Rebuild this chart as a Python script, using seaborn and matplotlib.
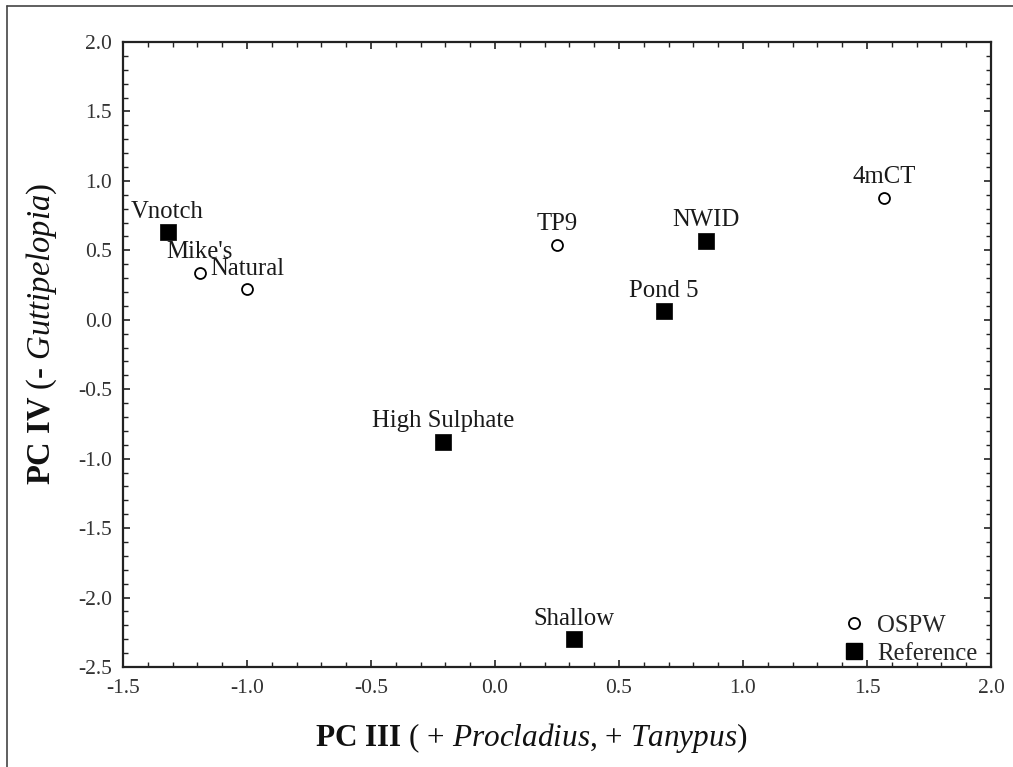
import matplotlib
matplotlib.use("Agg")
import matplotlib.pyplot as plt
from matplotlib.ticker import MultipleLocator
from matplotlib.lines import Line2D
import seaborn as sns
import pandas as pd

# Site scores on principal components III and IV
sites = ["Vnotch", "Mike's", "Natural", "TP9", "NWID", "Pond 5", "4mCT",
         "High Sulphate", "Shallow"]
pc3 = [-1.32, -1.19, -1.00, 0.25, 0.85, 0.68, 1.57, -0.21, 0.32]
pc4 = [0.63, 0.34, 0.22, 0.54, 0.57, 0.06, 0.88, -0.88, -2.30]
groups = ["Reference", "OSPW", "OSPW", "OSPW", "Reference", "Reference", "OSPW",
          "Reference", "Reference"]

x_ticks = [-1.5, -1.0, -0.5, 0.0, 0.5, 1.0, 1.5, 2.0]
y_ticks = [-2.5, -2.0, -1.5, -1.0, -0.5, 0.0, 0.5, 1.0, 1.5, 2.0]

df = pd.DataFrame({"site": sites, "pc3": pc3, "pc4": pc4, "group": groups})

sns.set_theme(style="white")
plt.rcParams["font.family"] = ["Liberation Serif", "DejaVu Serif"]
plt.rcParams["axes.unicode_minus"] = False
plt.rcParams["mathtext.fontset"] = "custom"
plt.rcParams["mathtext.rm"] = "Liberation Serif"
plt.rcParams["mathtext.it"] = "Liberation Serif:italic"
plt.rcParams["mathtext.bf"] = "Liberation Serif:bold"

fig = plt.figure(figsize=(10.13, 7.67), dpi=100)
fig.patch.set_facecolor("white")
ax = fig.add_axes([0.1214, 0.1304, 0.8569, 0.8148])
ax.set_facecolor("white")

ospw = df[df["group"] == "OSPW"]
ref = df[df["group"] == "Reference"]
sns.scatterplot(data=ospw, x="pc3", y="pc4", marker="o", s=62, color="white",
                edgecolor="black", linewidth=1.3, ax=ax, zorder=3)
sns.scatterplot(data=ref, x="pc3", y="pc4", marker="s", s=120, color="black",
                edgecolor="black", linewidth=0.5, ax=ax, zorder=3)

for name, xv, yv in zip(df["site"], df["pc3"], df["pc4"]):
    ax.annotate(name, (xv, yv), xytext=(0, 10.5), textcoords="offset points",
                ha="center", va="baseline", fontsize=17.8, color="#1a1a1a",
                zorder=4)

ax.set_xlim(x_ticks[0], x_ticks[-1])
ax.set_ylim(y_ticks[0], y_ticks[-1])
ax.set_xticks(x_ticks)
ax.set_yticks(y_ticks)
ax.set_xticklabels([f"{v:.1f}" for v in x_ticks])
ax.set_yticklabels([f"{v:.1f}" for v in y_ticks])
ax.xaxis.set_minor_locator(MultipleLocator(0.1))
ax.yaxis.set_minor_locator(MultipleLocator(0.1))
ax.tick_params(which="both", direction="in", top=True, right=True,
               bottom=True, left=True, colors="#222222", labelcolor="#333333")
ax.tick_params(which="major", length=5, width=1.2, labelsize=15.5)
ax.tick_params(axis="x", which="major", pad=9)
ax.tick_params(axis="y", which="major", pad=8)
ax.tick_params(which="minor", length=3.5, width=1.0)
for sp in ax.spines.values():
    sp.set_linewidth(1.6)
    sp.set_color("#222222")

ax.set_xlabel(r"$\mathbf{PC\ III}$ ( + $\mathit{Procladius}$, + $\mathit{Tanypus}$)",
              fontsize=22.5, color="#111111")
ax.set_ylabel(r"$\mathbf{PC\ IV}$ (- $\mathit{Guttipelopia}$)",
              fontsize=23.5, color="#111111")
ax.xaxis.set_label_coords(0.470, -0.086)
ax.yaxis.set_label_coords(-0.074, 0.533)

handles = [
    Line2D([], [], marker="o", linestyle="none", markersize=8,
           markerfacecolor="white", markeredgecolor="black", markeredgewidth=1.3),
    Line2D([], [], marker="s", linestyle="none", markersize=11,
           markerfacecolor="black", markeredgecolor="black"),
]
ax.legend(handles, ["OSPW", "Reference"], loc="lower right",
          bbox_to_anchor=(0.996, -0.012), frameon=False, fontsize=17.8,
          handlelength=0.8, handletextpad=0.55, labelspacing=0.22,
          borderaxespad=0.2, borderpad=0.2)

# outer frame lines along the top and left edges of the figure
fig.add_artist(Line2D([7 / 1013, 1.0], [1 - 6 / 767, 1 - 6 / 767],
                      transform=fig.transFigure, color="#444444", linewidth=1.2))
fig.add_artist(Line2D([7 / 1013, 7 / 1013], [0.0, 1 - 6 / 767],
                      transform=fig.transFigure, color="#444444", linewidth=1.2))

fig.savefig("out.png", dpi=100, facecolor="white")
